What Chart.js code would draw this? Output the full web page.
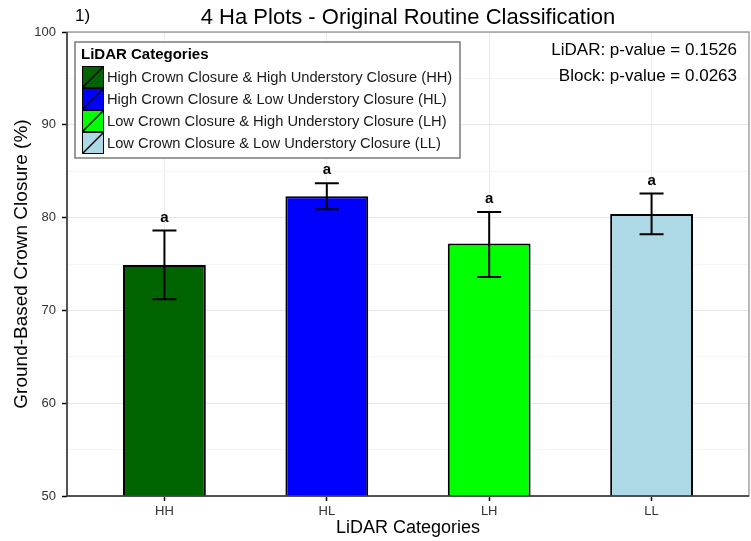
<!DOCTYPE html>
<html>
<head>
<meta charset="utf-8">
<script src="https://cdn.jsdelivr.net/npm/chart.js@4.4.1/dist/chart.umd.min.js"></script>
<style>
  html, body { margin: 0; padding: 0; background: #ffffff; }
  #wrap { width: 751px; height: 541px; }
</style>
</head>
<body>
<div id="wrap"><canvas id="chart" width="751" height="541"></canvas></div>
<script>
// LiDAR category codes and their long names
const categories = ['HH', 'HL', 'LH', 'LL'];
const categoryNames = [
  'High Crown Closure & High Understory Closure (HH)',
  'High Crown Closure & Low Understory Closure (HL)',
  'Low Crown Closure & High Understory Closure (LH)',
  'Low Crown Closure & Low Understory Closure (LL)'
];
// Mean ground-based crown closure (%) and error bar limits
const meanClosure = [74.9, 82.3, 77.2, 80.4];
const errorLow = [71.2, 80.9, 73.6, 78.2];
const errorHigh = [78.6, 83.7, 80.6, 82.6];
// Significance group letters
const groupLetters = ['a', 'a', 'a', 'a'];
const barColors = ['#006400', '#0000ff', '#00ff00', '#add8e6'];
// Y-axis tick values
const yTicks = [50, 60, 70, 80, 90, 100];
const statLines = ['LiDAR: p-value = 0.1526', 'Block: p-value = 0.0263'];

const FONT = '"Liberation Sans", Arial, sans-serif';

const overlay = {
  id: 'overlay',
  afterDatasetsDraw(chart) {
    const { ctx, chartArea: a, scales: { x, y } } = chart;
    ctx.save();
    // panel border
    ctx.strokeStyle = '#8a8a8a';
    ctx.lineWidth = 1.2;
    ctx.strokeRect(a.left, a.top, a.right - a.left, a.bottom - a.top);
    // axis lines
    ctx.strokeStyle = '#333333';
    ctx.lineWidth = 1.5;
    ctx.beginPath();
    ctx.moveTo(a.left, a.top); ctx.lineTo(a.left, a.bottom); ctx.lineTo(a.right, a.bottom);
    ctx.stroke();

    // error bars and group letters
    ctx.strokeStyle = '#000000';
    ctx.lineWidth = 2;
    ctx.fillStyle = '#000000';
    ctx.font = 'bold 15px ' + FONT;
    ctx.textAlign = 'center';
    ctx.textBaseline = 'middle';
    categories.forEach((c, i) => {
      const cx = x.getPixelForValue(i + 1);
      const yl = y.getPixelForValue(errorLow[i]);
      const yh = y.getPixelForValue(errorHigh[i]);
      const half = 12;
      ctx.beginPath();
      ctx.moveTo(cx, yl); ctx.lineTo(cx, yh);
      ctx.moveTo(cx - half, yl); ctx.lineTo(cx + half, yl);
      ctx.moveTo(cx - half, yh); ctx.lineTo(cx + half, yh);
      ctx.stroke();
      ctx.fillText(groupLetters[i], cx, yh - 13);
    });

    // title and panel tag
    ctx.font = '22px ' + FONT;
    ctx.textAlign = 'center';
    ctx.fillText('4 Ha Plots - Original Routine Classification', (a.left + a.right) / 2, 18);
    ctx.font = '17px ' + FONT;
    ctx.textAlign = 'left';
    ctx.fillText('1)', 75, 16);

    // test statistics
    ctx.font = '17px ' + FONT;
    ctx.textAlign = 'right';
    statLines.forEach((t, i) => ctx.fillText(t, 737, 50 + i * 26));

    // legend box
    const lx = 75, ly = 42, lw = 385, lh = 116;
    ctx.fillStyle = '#ffffff';
    ctx.fillRect(lx, ly, lw, lh);
    ctx.strokeStyle = '#7a7a7a';
    ctx.lineWidth = 1.5;
    ctx.strokeRect(lx, ly, lw, lh);
    ctx.fillStyle = '#000000';
    ctx.textAlign = 'left';
    ctx.font = 'bold 15px ' + FONT;
    ctx.fillText('LiDAR Categories', 81, 55);
    ctx.font = '14.7px ' + FONT;
    categoryNames.forEach((name, i) => {
      const sy = 66 + i * 22;
      ctx.fillStyle = barColors[i];
      ctx.fillRect(82, sy, 22, 22);
      ctx.strokeStyle = '#000000';
      ctx.lineWidth = 1;
      ctx.strokeRect(82.5, sy + 0.5, 21, 21);
      ctx.lineWidth = 1.5;
      ctx.beginPath();
      ctx.moveTo(83, sy + 21); ctx.lineTo(103, sy + 1);
      ctx.stroke();
      ctx.fillStyle = '#1a1a1a';
      ctx.fillText(name, 107, sy + 11.5);
    });
    ctx.restore();
  }
};

new Chart(document.getElementById('chart'), {
  type: 'bar',
  data: {
    datasets: [{
      data: meanClosure.map((v, i) => ({ x: i + 1, y: v })),
      backgroundColor: barColors,
      borderColor: '#000000',
      borderWidth: 2,
      borderSkipped: false,
      categoryPercentage: 1,
      barPercentage: 0.51
    }]
  },
  options: {
    responsive: false,
    animation: false,
    layout: { padding: { top: 32, right: 2, left: 0, bottom: 0 } },
    plugins: { legend: { display: false }, tooltip: { enabled: false } },
    scales: {
      x: {
        type: 'linear',
        min: 0.4,
        max: 4.6,
        offset: false,
        afterBuildTicks: (axis) => { axis.ticks = categories.map((c, i) => ({ value: i + 1 })); },
        afterFit: (scale) => { scale.height = 45; },
        ticks: {
          callback: (v) => categories[v - 1],
          color: '#333333',
          font: { family: FONT, size: 13 },
          padding: 3,
          maxRotation: 0
        },
        grid: { offset: false, color: '#ebebeb', lineWidth: 1, tickColor: '#000000', tickLength: 5, tickWidth: 1.5 },
        border: { display: false },
        title: {
          display: true,
          text: 'LiDAR Categories',
          color: '#000000',
          font: { family: FONT, size: 18 },
          padding: { top: 2, bottom: 2 }
        }
      },
      y: {
        min: 50,
        max: 100,
        afterBuildTicks: (axis) => {
          const t = [];
          for (let v = 50; v <= 100; v += 5) t.push({ value: v });
          axis.ticks = t;
        },
        afterFit: (scale) => { scale.width = 67; },
        ticks: {
          callback: (v) => (yTicks.includes(v) ? String(v) : ''),
          color: '#333333',
          font: { family: FONT, size: 13 },
          padding: 6
        },
        grid: {
          color: (c) => (c.tick && c.tick.value % 10 === 0 ? '#e6e6e6' : '#f4f4f4'),
          lineWidth: 1,
          tickColor: (c) => (c.tick && c.tick.value % 10 === 0 ? '#000000' : 'rgba(0,0,0,0)'),
          tickLength: 5,
          tickWidth: 1.5
        },
        border: { display: false },
        title: {
          display: true,
          text: 'Ground-Based Crown Closure (%)',
          color: '#000000',
          font: { family: FONT, size: 19 },
          padding: { top: 10, bottom: 10 }
        }
      }
    }
  },
  plugins: [overlay]
});
</script>
</body>
</html>
